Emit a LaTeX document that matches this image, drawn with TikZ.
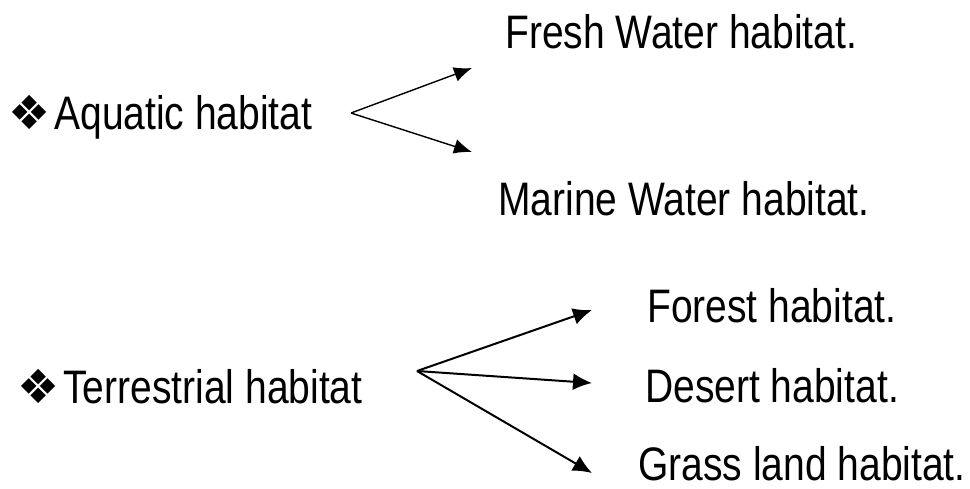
\documentclass[tikz,border=0pt]{standalone}
\usepackage{fontspec}
\setmainfont{Liberation Sans}[FakeStretch=0.83]
\newfontfamily\dingfont{DejaVu Sans}
\usetikzlibrary{arrows.meta}

\tikzset{
  habtext/.style={anchor=base west, inner sep=0pt, font=\fontsize{47}{56}\selectfont},
  thinarrow/.style={line width=1.4pt, -{Latex[length=18pt,width=15pt]}},
  thickarrow/.style={line width=2pt, -{Latex[length=19pt,width=17pt]}}
}
\newcommand{\habbullet}{{\dingfont\fontsize{47}{47}\selectfont ❖}\hspace{4pt}}

\begin{document}
\begin{tikzpicture}[x=1pt,y=-1pt]
  \useasboundingbox (0,0) rectangle (970,488);

  %% Aquatic branch
  \node[habtext] (AQ) at (8,129) {\habbullet Aquatic habitat};
  \node[habtext] (FW) at (505,48) {Fresh Water habitat.};
  \node[habtext] (MW) at (498,215) {Marine Water habitat.};
  \coordinate (AQfork) at (351,113);
  \coordinate (FWtip) at (472,68);
  \coordinate (MWtip) at (472,152);
  \draw[thinarrow] (AQfork) -- (FWtip);
  \draw[thinarrow] (AQfork) -- (MWtip);

  %% Terrestrial branch
  \node[habtext] (TE) at (17,403) {\habbullet Terrestrial habitat};
  \coordinate (TEfork) at (417,371);
  \foreach \name/\x/\y/\tip/\txt in {FO/647/322/310/Forest habitat.,
                                     DE/645/402/383/Desert habitat.,
                                     GR/638/480/473/Grass land habitat.}
  {
    \node[habtext] (\name) at (\x,\y) {\txt};
    \coordinate (\name tip) at (592,\tip);
    \draw[thickarrow] (TEfork) -- (\name tip);
  }
\end{tikzpicture}
\end{document}
